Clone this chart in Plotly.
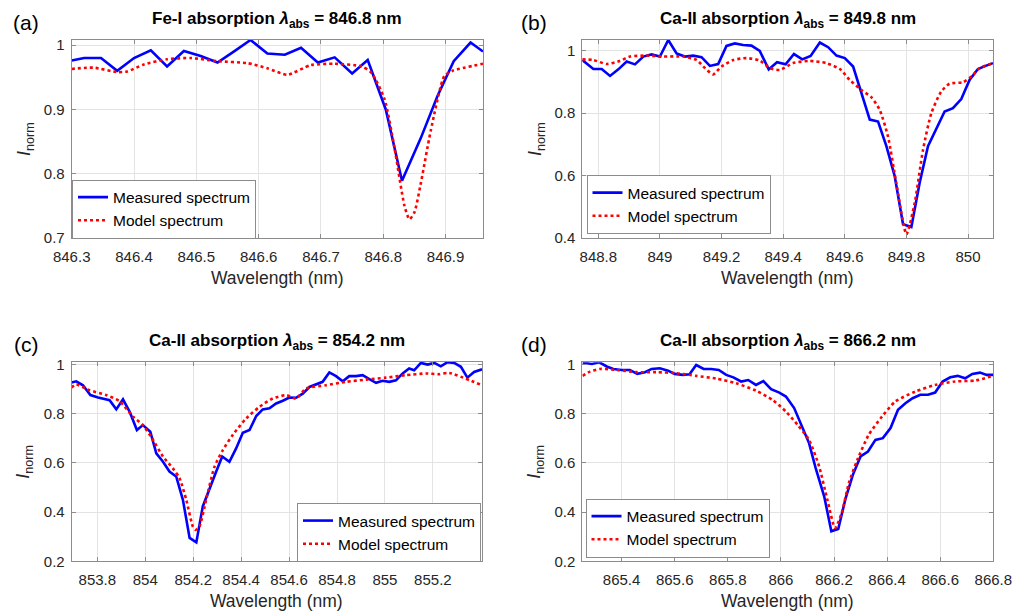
import plotly.graph_objects as go

W, H = 1016, 613

# ---------------- Data ----------------
# Panel (a) Fe-I 846.8 nm
a_meas_x = [846.300, 846.320, 846.347, 846.373, 846.400, 846.427, 846.453, 846.480, 846.507,
            846.534, 846.560, 846.587, 846.614, 846.642, 846.668, 846.695, 846.722, 846.750,
            846.775, 846.804, 846.830, 846.860, 846.887, 846.913, 846.940, 846.960]
a_meas_y = [0.976, 0.980, 0.980, 0.960, 0.980, 0.992, 0.967, 0.991, 0.983,
            0.973, 0.990, 1.008, 0.987, 0.985, 0.996, 0.973, 0.981, 0.956,
            0.977, 0.900, 0.789, 0.855, 0.921, 0.975, 1.004, 0.990]
a_mod_x = [846.300, 846.335, 846.373, 846.389, 846.416, 846.453, 846.491, 846.534, 846.582,
           846.614, 846.646, 846.684, 846.722, 846.765, 846.781, 846.802, 846.818, 846.834,
           846.842, 846.850, 846.860, 846.876, 846.898, 846.911, 846.960]
a_mod_y = [0.963, 0.965, 0.958, 0.959, 0.970, 0.978, 0.980, 0.975, 0.972,
           0.964, 0.954, 0.969, 0.971, 0.967, 0.957, 0.916, 0.840, 0.750,
           0.729, 0.740, 0.784, 0.866, 0.952, 0.960, 0.971]

# Panel (b) Ca-II 849.8 nm
b_meas_x = [848.748, 848.784, 848.811, 848.838, 848.865, 848.892, 848.919, 848.946, 848.973,
            849.000, 849.027, 849.054, 849.081, 849.108, 849.135, 849.162, 849.189, 849.216,
            849.243, 849.270, 849.297, 849.324, 849.353, 849.380, 849.408, 849.435, 849.462,
            849.489, 849.519, 849.546, 849.573, 849.600, 849.627, 849.654, 849.681, 849.708,
            849.735, 849.762, 849.789, 849.816, 849.843, 849.870, 849.897, 849.924, 849.951,
            849.978, 850.005, 850.032, 850.059, 850.081]
b_meas_y = [0.970, 0.941, 0.941, 0.919, 0.940, 0.965, 0.956, 0.981, 0.988,
            0.981, 1.034, 0.991, 0.981, 0.984, 0.979, 0.951, 0.957, 1.015,
            1.023, 1.018, 1.016, 0.999, 0.940, 0.963, 0.956, 0.989, 0.972,
            0.983, 1.026, 1.011, 0.984, 0.976, 0.949, 0.864, 0.779, 0.773,
            0.694, 0.598, 0.444, 0.435, 0.577, 0.694, 0.752, 0.805, 0.816,
            0.845, 0.906, 0.941, 0.952, 0.960]
b_mod_x = [848.748, 848.784, 848.827, 848.870, 848.903, 848.957, 849.011, 849.076, 849.119,
           849.146, 849.173, 849.200, 849.238, 849.281, 849.324, 849.357, 849.389, 849.432,
           849.486, 849.540, 849.584, 849.616, 849.654, 849.686, 849.713, 849.740, 849.767,
           849.800, 849.827, 849.854, 849.881, 849.913, 849.940, 849.984, 850.011, 850.038,
           850.081]
b_mod_y = [0.972, 0.970, 0.957, 0.967, 0.981, 0.984, 0.981, 0.981, 0.970,
           0.944, 0.924, 0.949, 0.970, 0.976, 0.968, 0.944, 0.938, 0.960,
           0.967, 0.960, 0.941, 0.906, 0.874, 0.851, 0.811, 0.726, 0.577,
           0.412, 0.513, 0.683, 0.800, 0.869, 0.894, 0.899, 0.917, 0.944,
           0.960]

# Panel (c) Ca-II 854.2 nm
c_meas_x = [853.692, 853.712, 853.740, 853.771, 853.803, 853.831, 853.851, 853.879, 853.907,
            853.935, 853.965, 853.990, 854.021, 854.046, 854.074, 854.101, 854.129, 854.157,
            854.185, 854.213, 854.240, 854.296, 854.321, 854.351, 854.379, 854.407, 854.435,
            854.463, 854.490, 854.518, 854.546, 854.574, 854.601, 854.629, 854.657, 854.685,
            854.713, 854.740, 854.768, 854.796, 854.824, 854.851, 854.879, 854.907, 854.935,
            854.963, 854.990, 855.018, 855.046, 855.074, 855.101, 855.122, 855.150, 855.178,
            855.206, 855.233, 855.261, 855.289, 855.317, 855.344, 855.372, 855.405]
c_meas_y = [0.927, 0.932, 0.916, 0.876, 0.866, 0.859, 0.855, 0.818, 0.859,
            0.808, 0.734, 0.754, 0.727, 0.639, 0.605, 0.565, 0.545, 0.450,
            0.295, 0.277, 0.423, 0.565, 0.626, 0.605, 0.659, 0.723, 0.734,
            0.791, 0.818, 0.822, 0.842, 0.853, 0.866, 0.865, 0.882, 0.909,
            0.919, 0.930, 0.968, 0.953, 0.932, 0.953, 0.953, 0.957, 0.941,
            0.926, 0.934, 0.930, 0.936, 0.964, 0.984, 0.977, 1.007, 1.000,
            1.007, 0.993, 1.010, 1.007, 0.991, 0.947, 0.970, 0.981]
c_mod_x = [853.692, 853.712, 853.767, 853.837, 853.893, 853.949, 853.990, 854.024, 854.074,
           854.115, 854.143, 854.171, 854.199, 854.210, 854.226, 854.254, 854.289, 854.324,
           854.365, 854.421, 854.476, 854.532, 854.588, 854.629, 854.671, 854.754, 854.838,
           854.921, 855.004, 855.088, 855.171, 855.226, 855.268, 855.405]
c_mod_y = [0.907, 0.919, 0.896, 0.876, 0.851, 0.788, 0.754, 0.707, 0.626,
           0.578, 0.538, 0.450, 0.340, 0.328, 0.342, 0.450, 0.585, 0.653,
           0.714, 0.781, 0.828, 0.862, 0.876, 0.862, 0.903, 0.916, 0.930,
           0.939, 0.947, 0.957, 0.964, 0.961, 0.966, 0.916]

# Panel (d) Ca-II 866.2 nm
d_meas_x = [865.253, 865.288, 865.316, 865.344, 865.369, 865.400, 865.431, 865.459, 865.488,
            865.513, 865.544, 865.575, 865.600, 865.631, 865.656, 865.681, 865.709, 865.737,
            865.766, 865.794, 865.821, 865.850, 865.877, 865.906, 865.934, 865.963, 865.994,
            866.019, 866.050, 866.078, 866.106, 866.131, 866.163, 866.190, 866.216, 866.244,
            866.271, 866.300, 866.328, 866.356, 866.384, 866.413, 866.441, 866.469, 866.496,
            866.525, 866.554, 866.581, 866.609, 866.638, 866.666, 866.694, 866.721, 866.750,
            866.775, 866.800]
d_meas_y = [1.007, 1.001, 1.008, 0.991, 0.981, 0.977, 0.977, 0.961, 0.968,
            0.981, 0.984, 0.974, 0.961, 0.957, 0.959, 0.997, 0.981, 0.981,
            0.977, 0.957, 0.947, 0.930, 0.936, 0.916, 0.932, 0.899, 0.885,
            0.869, 0.822, 0.747, 0.680, 0.578, 0.464, 0.322, 0.331, 0.457,
            0.551, 0.626, 0.646, 0.693, 0.700, 0.741, 0.815, 0.842, 0.862,
            0.876, 0.876, 0.885, 0.930, 0.947, 0.953, 0.943, 0.961, 0.966,
            0.957, 0.957]
d_mod_x = [865.253, 865.281, 865.319, 865.381, 865.456, 865.531, 865.606, 865.681, 865.756,
           865.831, 865.906, 865.969, 866.019, 866.063, 866.106, 866.144, 866.175, 866.204,
           866.229, 866.256, 866.288, 866.331, 866.381, 866.431, 866.506, 866.581, 866.656,
           866.731, 866.800]
d_mod_y = [0.953, 0.970, 0.981, 0.977, 0.968, 0.968, 0.964, 0.953, 0.942,
           0.923, 0.893, 0.855, 0.808, 0.754, 0.693, 0.585, 0.450, 0.335,
           0.396, 0.518, 0.612, 0.714, 0.788, 0.849, 0.889, 0.916, 0.930,
           0.934, 0.953]

# ---------------- Axis tick labels ----------------
a_xticks = [846.3, 846.4, 846.5, 846.6, 846.7, 846.8, 846.9]
a_xlabels = ["846.3", "846.4", "846.5", "846.6", "846.7", "846.8", "846.9"]
a_yticks = [0.7, 0.8, 0.9, 1.0]
a_ylabels = ["0.7", "0.8", "0.9", "1"]
b_xticks = [848.8, 849.0, 849.2, 849.4, 849.6, 849.8, 850.0]
b_xlabels = ["848.8", "849", "849.2", "849.4", "849.6", "849.8", "850"]
b_yticks = [0.4, 0.6, 0.8, 1.0]
b_ylabels = ["0.4", "0.6", "0.8", "1"]
c_xticks = [853.8, 854.0, 854.2, 854.4, 854.6, 854.8, 855.0, 855.2]
c_xlabels = ["853.8", "854", "854.2", "854.4", "854.6", "854.8", "855", "855.2"]
c_yticks = [0.2, 0.4, 0.6, 0.8, 1.0]
c_ylabels = ["0.2", "0.4", "0.6", "0.8", "1"]
d_xticks = [865.4, 865.6, 865.8, 866.0, 866.2, 866.4, 866.6, 866.8]
d_xlabels = ["865.4", "865.6", "865.8", "866", "866.2", "866.4", "866.6", "866.8"]
d_yticks = [0.2, 0.4, 0.6, 0.8, 1.0]
d_ylabels = ["0.2", "0.4", "0.6", "0.8", "1"]

titles = ["Fe-I absorption", "Ca-II absorption", "Ca-II absorption", "Ca-II absorption"]
lines_nm = ["846.8", "849.8", "854.2", "866.2"]
panel_labels = ["(a)", "(b)", "(c)", "(d)"]

# ---------------- Layout geometry (pixels) ----------------
FONT = "Liberation Sans, Arial, sans-serif"
TXT = "#262626"
FRAME = "#8c8c8c"
GRID = "#e3e3e3"
BLUE = "rgb(0,0,255)"
RED = "rgb(255,0,0)"

def px(x):
    return x / W

def py(y):
    return 1 - y / H

panels = [
    dict(box=(71.7, 40, 483, 238), xr=[846.3, 846.96], yr=[0.7, 1.008],
         xt=(a_xticks, a_xlabels), yt=(a_yticks, a_ylabels),
         mx=a_meas_x, my=a_meas_y, qx=a_mod_x, qy=a_mod_y,
         leg=dict(x=px(72), y=py(238.5), xanchor="left", yanchor="bottom")),
    dict(box=(582.3, 40, 993.3, 238), xr=[848.748, 850.082], yr=[0.4, 1.034],
         xt=(b_xticks, b_xlabels), yt=(b_yticks, b_ylabels),
         mx=b_meas_x, my=b_meas_y, qx=b_mod_x, qy=b_mod_y,
         leg=dict(x=px(586.5), y=py(234), xanchor="left", yanchor="bottom")),
    dict(box=(71.7, 362, 482, 561.3), xr=[853.693, 855.405], yr=[0.2, 1.0106],
         xt=(c_xticks, c_xlabels), yt=(c_yticks, c_ylabels),
         mx=c_meas_x, my=c_meas_y, qx=c_mod_x, qy=c_mod_y,
         leg=dict(x=px(481), y=py(562), xanchor="right", yanchor="bottom")),
    dict(box=(582.3, 362.3, 993.3, 561.3), xr=[865.252, 866.8], yr=[0.2, 1.008],
         xt=(d_xticks, d_xlabels), yt=(d_yticks, d_ylabels),
         mx=d_meas_x, my=d_meas_y, qx=d_mod_x, qy=d_mod_y,
         leg=dict(x=px(585.5), y=py(557.5), xanchor="left", yanchor="bottom")),
]

fig = go.Figure()
layout = dict(
    width=W, height=H, margin=dict(l=0, r=0, t=0, b=0, autoexpand=False),
    paper_bgcolor="white", plot_bgcolor="white",
    font=dict(family=FONT, color=TXT, size=15),
    annotations=[],
)

for i, p in enumerate(panels):
    n = "" if i == 0 else str(i + 1)
    legname = "legend" + n
    xa, ya = "x" + n, "y" + n
    fig.add_trace(go.Scatter(x=p["mx"], y=p["my"], mode="lines", name="Measured spectrum",
                             line=dict(color=BLUE, width=2.6), xaxis=xa, yaxis=ya,
                             legend=legname, showlegend=True))
    fig.add_trace(go.Scatter(x=p["qx"], y=p["qy"], mode="lines", name="Model spectrum",
                             line=dict(color=RED, width=2.6, dash="dot", shape="spline", smoothing=0.6),
                             xaxis=xa, yaxis=ya, legend=legname, showlegend=True))
    x0, y0, x1, y1 = p["box"]
    common = dict(showline=True, linecolor=FRAME, linewidth=1, mirror="ticks",
                  ticks="inside", ticklen=4, tickcolor=FRAME, showgrid=True,
                  gridcolor=GRID, gridwidth=1, zeroline=False, automargin=False,
                  tickfont=dict(family=FONT, size=15, color=TXT))
    layout["xaxis" + n] = dict(domain=[px(x0), px(x1)], range=p["xr"], anchor=ya,
                               tickvals=p["xt"][0], ticktext=p["xt"][1],
                               ticklabelstandoff=5, **common)
    layout["yaxis" + n] = dict(domain=[py(y1), py(y0)], range=p["yr"], anchor=xa,
                               tickvals=p["yt"][0], ticktext=p["yt"][1],
                               ticklabelstandoff=3, **common)
    layout[legname] = dict(**p["leg"], bgcolor="white", bordercolor=FRAME, borderwidth=1,
                           font=dict(family=FONT, size=15.5, color="black"),
                           tracegroupgap=0, itemwidth=30)
    cx = (x0 + x1) / 2
    # Title
    layout["annotations"].append(dict(
        text="<b>%s <i>λ</i><sub>abs</sub> = %s nm</b>" % (titles[i], lines_nm[i]),
        xref="paper", yref="paper", x=px(cx), y=py(y0 - 7), xanchor="center", yanchor="bottom",
        showarrow=False, font=dict(family=FONT, size=17, color="black")))
    # X title
    layout["annotations"].append(dict(
        text="Wavelength (nm)", xref="paper", yref="paper", x=px(cx), y=py(y1 + 40),
        xanchor="center", yanchor="middle", showarrow=False,
        font=dict(family=FONT, size=17.5, color=TXT)))
    # Y title
    ylx = 25 if i % 2 == 0 else 536
    layout["annotations"].append(dict(
        text="<i>I</i><sub>norm</sub>", xref="paper", yref="paper", x=px(ylx), y=py((y0 + y1) / 2),
        xanchor="center", yanchor="middle", textangle=-90, showarrow=False,
        font=dict(family=FONT, size=18, color=TXT)))
    # Panel label
    plx = 26 if i % 2 == 0 else 534
    ply = 22 if i < 2 else 344
    layout["annotations"].append(dict(
        text=panel_labels[i], xref="paper", yref="paper", x=px(plx), y=py(ply),
        xanchor="center", yanchor="middle", showarrow=False,
        font=dict(family=FONT, size=21, color="black")))

fig.update_layout(**layout)
fig.write_html("out.html")
